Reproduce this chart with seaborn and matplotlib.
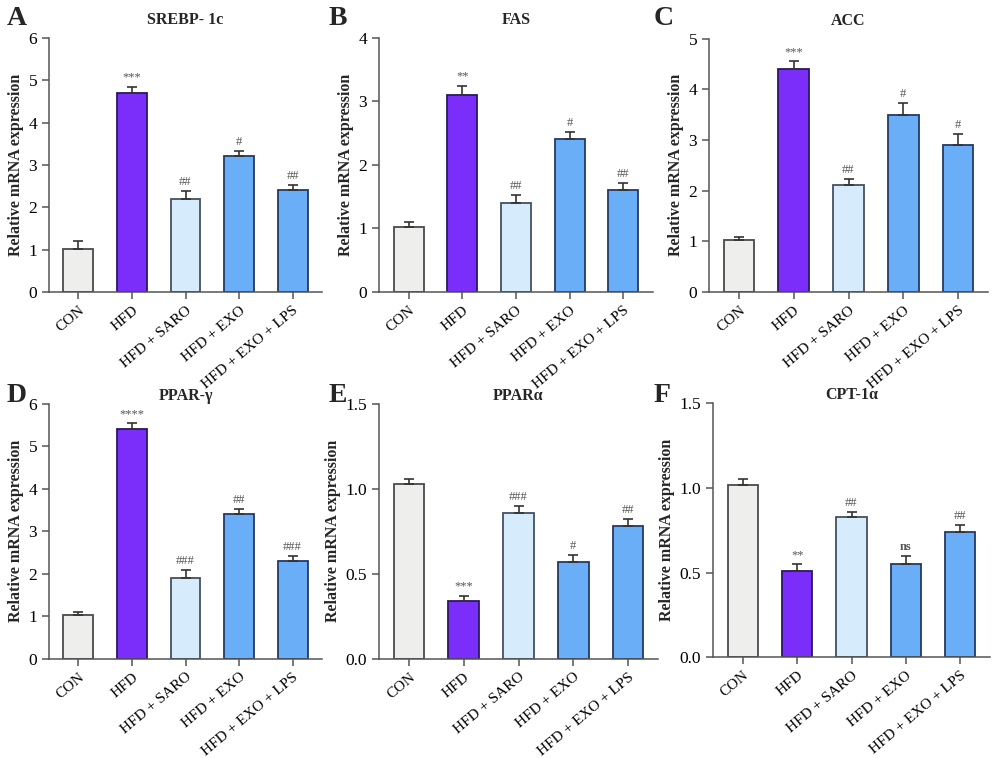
import numpy as np
import pandas as pd
import matplotlib
matplotlib.use("Agg")
import matplotlib.pyplot as plt
import seaborn as sns

groups = ["CON", "HFD", "HFD + SARO", "HFD + EXO", "HFD + EXO + LPS"]
colors = ["#EEEFED", "#7B2DFA", "#D6EBFC", "#6AAEF7", "#6AAEF7"]
edges = ["#4a4a4a", "#2b1a5c", "#44505e", "#263a60", "#263a60"]

titles = ["SREBP- 1c", "FAS", "ACC", "PPAR-γ", "PPARα", "CPT-1α"]
letters = ["A", "B", "C", "D", "E", "F"]

srebp = [1.02, 4.70, 2.20, 3.20, 2.40]
srebp_err = [0.18, 0.15, 0.18, 0.12, 0.13]
fas = [1.02, 3.10, 1.40, 2.40, 1.60]
fas_err = [0.08, 0.15, 0.12, 0.11, 0.11]
acc = [1.02, 4.40, 2.10, 3.50, 2.90]
acc_err = [0.07, 0.15, 0.12, 0.22, 0.21]
pparg = [1.02, 5.40, 1.90, 3.40, 2.30]
pparg_err = [0.08, 0.15, 0.18, 0.12, 0.12]
ppara = [1.03, 0.34, 0.86, 0.57, 0.78]
ppara_err = [0.03, 0.03, 0.04, 0.04, 0.04]
cpt = [1.02, 0.51, 0.83, 0.55, 0.74]
cpt_err = [0.03, 0.04, 0.03, 0.05, 0.04]

marks_a = ["", "***", "##", "#", "##"]
marks_b = ["", "**", "##", "#", "##"]
marks_c = ["", "***", "##", "#", "#"]
marks_d = ["", "****", "###", "##", "###"]
marks_e = ["", "***", "###", "#", "##"]
marks_f = ["", "**", "##", "ns", "##"]

panels = [
    (srebp, srebp_err, marks_a, 6, [0, 1, 2, 3, 4, 5, 6], "{:.0f}"),
    (fas, fas_err, marks_b, 4, [0, 1, 2, 3, 4], "{:.0f}"),
    (acc, acc_err, marks_c, 5, [0, 1, 2, 3, 4, 5], "{:.0f}"),
    (pparg, pparg_err, marks_d, 6, [0, 1, 2, 3, 4, 5, 6], "{:.0f}"),
    (ppara, ppara_err, marks_e, 1.5, [0, 0.5, 1.0, 1.5], "{:.1f}"),
    (cpt, cpt_err, marks_f, 1.5, [0, 0.5, 1.0, 1.5], "{:.1f}"),
]

# axes boxes in figure fraction: left, bottom, width, height
boxes = [
    (0.049, 0.615, 0.273, 0.335),
    (0.379, 0.615, 0.274, 0.335),
    (0.709, 0.615, 0.279, 0.334),
    (0.049, 0.131, 0.273, 0.336),
    (0.379, 0.131, 0.279, 0.336),
    (0.713, 0.133, 0.277, 0.335),
]

sns.set_style("ticks")
plt.rcParams["font.family"] = ["Liberation Serif", "DejaVu Serif"]

fig = plt.figure(figsize=(10, 7.58), dpi=100)
spine_c = "#555555"

for i, (vals, errs, marks, ymax, ticks, fmt) in enumerate(panels):
    ax = fig.add_axes(boxes[i])
    df = pd.DataFrame({"group": groups, "value": vals})
    sns.barplot(data=df, x="group", y="value", hue="group", palette=colors,
                saturation=1, legend=False, width=0.56, ax=ax, linewidth=1.3,
                errorbar=None)
    for patch, ec in zip(ax.patches, edges):
        patch.set_edgecolor(ec)
    x = np.arange(len(groups))
    ax.errorbar(x, vals, yerr=[np.zeros(len(vals)), errs], fmt="none",
                ecolor="#333333", elinewidth=1.2, capsize=3.5, capthick=1.2)
    for xi, v, e, m in zip(x, vals, errs, marks):
        if m:
            ax.text(xi, v + e + ymax * 0.012, m, ha="center", va="bottom",
                    fontsize=9, color="#555555",
                    fontweight="bold" if m == "ns" else "normal")
    ax.set_xlim(-0.55, 4.55)
    ax.set_ylim(0, ymax)
    ax.set_yticks(ticks)
    ax.set_yticklabels([fmt.format(t) for t in ticks], fontsize=12.5)
    ax.set_xticks(x)
    ax.set_xticklabels(groups, rotation=40, ha="right", rotation_mode="anchor",
                       fontsize=11)
    ax.set_xlabel("")
    ax.set_ylabel("Relative mRNA expression", fontsize=11.5, fontweight="bold",
                  labelpad=3)
    ax.set_title(titles[i], fontsize=11.5, fontweight="bold",
                 pad=10 if i < 3 else 2)
    for s in ["top", "right"]:
        ax.spines[s].set_visible(False)
    for s in ["left", "bottom"]:
        ax.spines[s].set_color(spine_c)
        ax.spines[s].set_linewidth(1.1)
    ax.tick_params(colors=spine_c, labelcolor="black", length=5, width=1.1)

letter_pos = [(0.007, 0.976), (0.329, 0.976), (0.654, 0.976),
              (0.007, 0.478), (0.329, 0.478), (0.654, 0.478)]
for (lx, ly), lt in zip(letter_pos, letters):
    fig.text(lx, ly, lt, fontsize=20, fontweight="bold", va="center", ha="left")

fig.savefig("out.png", dpi=100)
